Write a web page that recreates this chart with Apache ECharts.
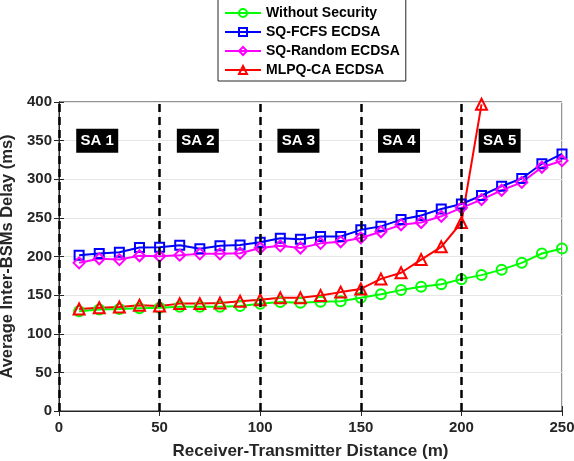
<!DOCTYPE html>
<html><head><meta charset="utf-8">
<script src="https://cdn.jsdelivr.net/npm/echarts@6/dist/echarts.min.js"></script>
<style>html,body{margin:0;padding:0;background:#fff}#c{width:574px;height:461px}</style>
</head><body><div id="c"></div>
<script>
const distances = [10,20,30,40,50,60,70,80,90,100,110,120,130,140,150,160,170,180,190,200,210,220,230,240,250];
const withoutSecurity = [129,131.5,132,133,133.6,135,135,135,136,138.8,141,140,141.4,142,146.5,151,156.5,160.8,164,170.7,175.9,183,191.8,203.9,210.3];
const sqFcfs = [201.7,204,205.6,211.6,212,214.7,210,213.8,215,218.5,223.7,222.4,225.9,225.9,234.5,239,247.8,253,261.6,268,279,291,301,320,332.8];
const sqRandom = [191.8,197,196,201,200.4,201.7,203.4,203.4,204.3,211,213.8,211,217,219,224,232,241,244,252,263,273.7,285.8,296,315.5,324];
const mlpqDist = [10,20,30,40,50,60,70,80,90,100,110,120,130,140,150,160,170,180,190,200,210];
const mlpqCa = [132,133.6,134.5,137,135.8,139,139,139.7,142,144,146.5,146.5,149.6,153.9,158,171,179,196,212.5,244,397];
const saLabels = ['SA 1','SA 2','SA 3','SA 4','SA 5'];
const saX = [19,69,119,169,219];
const saY = [350,350,350,350,350];
const boundaries = [0,50,100,150,200];
const seriesNames = ['Without Security','SQ-FCFS ECDSA','SQ-Random ECDSA','MLPQ-CA ECDSA'];

const font = 'Liberation Sans, Arial, sans-serif';
const axisCol = '#262626';
function pairs(xs, ys){ return xs.map((x,i)=>[x, ys[i]]); }
function lineSeries(name, xs, ys, color, symbol, size){
  return {
    name, type:'line', data: pairs(xs, ys), symbol, symbolSize: size,
    showAllSymbol: true,
    lineStyle:{color, width:2},
    itemStyle:{color:'rgba(255,255,255,0)', borderColor:color, borderWidth:2},
    emphasis:{disabled:true}, animation:false, z:3
  };
}
const chart = echarts.init(document.getElementById('c'), null, {renderer:'canvas'});
const axisCommon = {
  axisLine:{show:true, lineStyle:{color:axisCol, width:1}},
  axisTick:{show:true, inside:true, length:5, lineStyle:{color:axisCol}},
  axisLabel:{color:axisCol, fontFamily:font, fontWeight:'bold', fontSize:15},
};
chart.setOption({
  animation:false,
  backgroundColor:'#fff',
  grid:{left:59, right:12, top:102, bottom:50, show:true, borderColor:axisCol, borderWidth:1, outerBoundsMode:'none', containLabel:false},
  legend:{
    data: seriesNames, orient:'vertical', left:218, top:-2,
    width:185, padding:[8,6,4,6], itemGap:5, itemWidth:36, itemHeight:10,
    backgroundColor:'#fff', borderColor:axisCol, borderWidth:1,
    textStyle:{fontFamily:font, fontWeight:'bold', fontSize:14, color:'#000'},
  },
  xAxis:[{
    type:'value', min:0, max:250, interval:50, ...axisCommon,
    axisLabel:{...axisCommon.axisLabel, margin:9},
    splitLine:{show:true, lineStyle:{color:'#e6e6e6', width:1}},
    name:'Receiver-Transmitter Distance (m)', nameLocation:'middle', nameGap:32,
    nameTextStyle:{fontFamily:font, fontWeight:'bold', fontSize:17, color:axisCol}
  },{
    type:'value', min:0, max:250, interval:50, position:'top',
    axisLine:{show:true, lineStyle:{color:axisCol}}, axisTick:{show:true, inside:true, length:5, lineStyle:{color:axisCol}},
    axisLabel:{show:false}, splitLine:{show:false}
  }],
  yAxis:[{
    type:'value', min:0, max:400, interval:50, ...axisCommon,
    axisLabel:{...axisCommon.axisLabel, margin:7},
    splitLine:{show:true, lineStyle:{color:'#e6e6e6', width:1}},
    name:'Average Inter-BSMs Delay (ms)', nameLocation:'middle', nameGap:41,
    nameTextStyle:{fontFamily:font, fontWeight:'bold', fontSize:16.5, color:axisCol}
  },{
    type:'value', min:0, max:400, interval:50, position:'right',
    axisLine:{show:true, lineStyle:{color:axisCol}}, axisTick:{show:true, inside:true, length:5, lineStyle:{color:axisCol}},
    axisLabel:{show:false}, splitLine:{show:false}
  }],
  series:[
    Object.assign(lineSeries(seriesNames[0], distances, withoutSecurity, '#00ff00', 'circle', 10), {
      markLine:{silent:true, symbol:['none','none'], label:{show:false},
        lineStyle:{color:'#000', type:[8,5], width:2.5},
        data: boundaries.map(b=>({xAxis:b}))}
    }),
    lineSeries(seriesNames[1], distances, sqFcfs, '#0000ff', 'rect', 9),
    lineSeries(seriesNames[2], distances, sqRandom, '#ff00ff', 'diamond', 11),
    lineSeries(seriesNames[3], mlpqDist, mlpqCa, '#ff0000', 'triangle', 11),
    {
      type:'scatter', name:'sa', data: saX.map((x,i)=>({value:[x, saY[i]], label:{formatter:saLabels[i]}})),
      symbol:'rect', symbolSize:[42,24], itemStyle:{color:'#000', opacity:1},
      label:{show:true, position:'inside', color:'#fff', fontFamily:font, fontWeight:'bold', fontSize:15},
      z:5, silent:true
    }
  ]
});
</script></body></html>
